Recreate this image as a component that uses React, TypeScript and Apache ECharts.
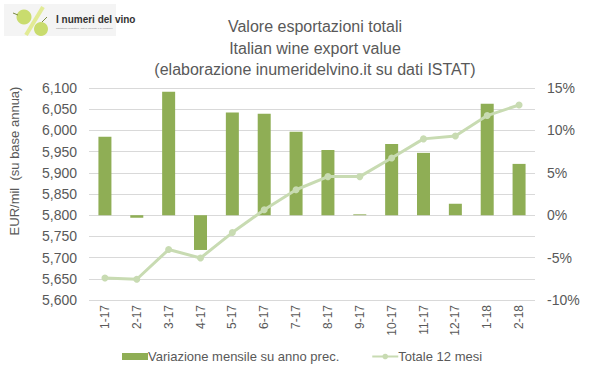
import React, { useEffect, useRef } from "react";
import * as echarts from "echarts";

const categories = ["1-17", "2-17", "3-17", "4-17", "5-17", "6-17", "7-17", "8-17", "9-17", "10-17", "11-17", "12-17", "1-18", "2-18"];
const monthlyChange = [9.25, -0.3, 14.55, -4.1, 12.1, 11.95, 9.85, 7.7, 0.1, 8.4, 7.35, 1.35, 13.15, 6.05];
const total12 = [5652, 5649, 5719, 5699, 5759, 5813, 5860, 5891, 5891, 5935, 5980, 5987, 6035, 6060];
const titleLines = ["Valore esportazioni totali", "Italian wine export value", "(elaborazione inumeridelvino.it su dati ISTAT)"];
const barName = "Variazione mensile su anno prec.";
const lineName = "Totale 12 mesi";
const yName = "EUR/mil  (su base annua)";

const FONT = "'Liberation Sans', Arial, sans-serif";
const GRAY = "#595959";
const BAR = "#8fae55";
const LINE = "#c8dbb2";

export default function App() {
  const ref = useRef<HTMLDivElement>(null);
  useEffect(() => {
    const chart = echarts.init(ref.current!, undefined, { renderer: "svg" });
    chart.setOption({
      animation: false,
      textStyle: { fontFamily: FONT },
      title: {
        text: titleLines.join("\n"),
        left: 310,
        top: 11,
        textAlign: "center",
        textStyle: { fontFamily: FONT, fontSize: 16, fontWeight: "normal", color: GRAY, lineHeight: 21.5 },
      },
      grid: { left: 89, right: 64, top: 88, bottom: 78 },
      legend: {
        bottom: 10,
        left: 117,
        itemGap: 32,
        itemWidth: 26,
        itemHeight: 7,
        textStyle: { fontFamily: FONT, fontSize: 13, color: GRAY, padding: [0, 0, 0, -5] },
        data: [
          { name: barName, icon: "rect" },
          { name: lineName },
        ],
      },
      xAxis: {
        type: "category",
        data: categories,
        axisLine: { show: false },
        axisTick: { show: false },
        axisLabel: { rotate: 90, color: GRAY, fontSize: 12, fontFamily: FONT, margin: 5 },
      },
      yAxis: [
        {
          type: "value",
          min: 5600,
          max: 6100,
          interval: 50,
          axisLine: { show: false },
          axisTick: { show: false },
          splitLine: { lineStyle: { color: "#d9d9d9", width: 1 } },
          axisLabel: {
            color: GRAY,
            fontSize: 14,
            fontFamily: FONT,
            margin: 12,
            formatter: (v: number) => v.toLocaleString("en-US"),
          },
        },
        {
          type: "value",
          min: -10,
          max: 15,
          interval: 5,
          axisLine: { show: false },
          axisTick: { show: false },
          splitLine: { show: false },
          axisLabel: { color: GRAY, fontSize: 14, fontFamily: FONT, margin: 12, formatter: "{value}%" },
        },
      ],
      series: [
        {
          name: barName,
          type: "bar",
          yAxisIndex: 1,
          data: monthlyChange,
          barWidth: 13,
          itemStyle: { color: BAR },
        },
        {
          name: lineName,
          type: "line",
          yAxisIndex: 0,
          data: total12,
          symbol: "circle",
          symbolSize: 7,
          lineStyle: { color: LINE, width: 3 },
          itemStyle: { color: LINE },
          z: 3,
        },
      ],
      graphic: [
        {
          type: "group",
          left: 4,
          top: 4,
          children: [
            { type: "rect", shape: { x: 0, y: 0, width: 112, height: 32 }, style: { fill: "#f4f4f4" } },
            { type: "circle", shape: { cx: 20, cy: 13, r: 7.5 }, style: { fill: "#c9dc6e" } },
            { type: "circle", shape: { cx: 37, cy: 25, r: 7 }, style: { fill: "#c9dc6e" } },
            { type: "line", shape: { x1: 22, y1: 31, x2: 39, y2: 3 }, style: { stroke: "#e2eb95", lineWidth: 4 } },
            { type: "line", shape: { x1: 9, y1: 9, x2: 14, y2: 11 }, style: { stroke: "#7a8a40", lineWidth: 1 } },
            { type: "line", shape: { x1: 38, y1: 18, x2: 43, y2: 13 }, style: { stroke: "#7a8a40", lineWidth: 1 } },
            {
              type: "text",
              x: 52,
              y: 10,
              style: { text: "I numeri del vino", fill: "#333", font: "bold 10px " + FONT },
            },
            {
              type: "text",
              x: 52,
              y: 23,
              style: { text: "Statistiche produttive, dati di mercato e di consumo", fill: "#888", font: "2.5px " + FONT },
            },
          ],
        },
        {
          type: "text",
          x: 14,
          y: 161,
          rotation: Math.PI / 2,
          style: { text: yName, fill: GRAY, font: "13px " + FONT, align: "center", verticalAlign: "middle" },
        },
      ],
    });
    return () => chart.dispose();
  }, []);
  return <div ref={ref} style={{ width: 599, height: 378, position: "absolute", left: 0, top: 0, background: "#fff" }} />;
}
